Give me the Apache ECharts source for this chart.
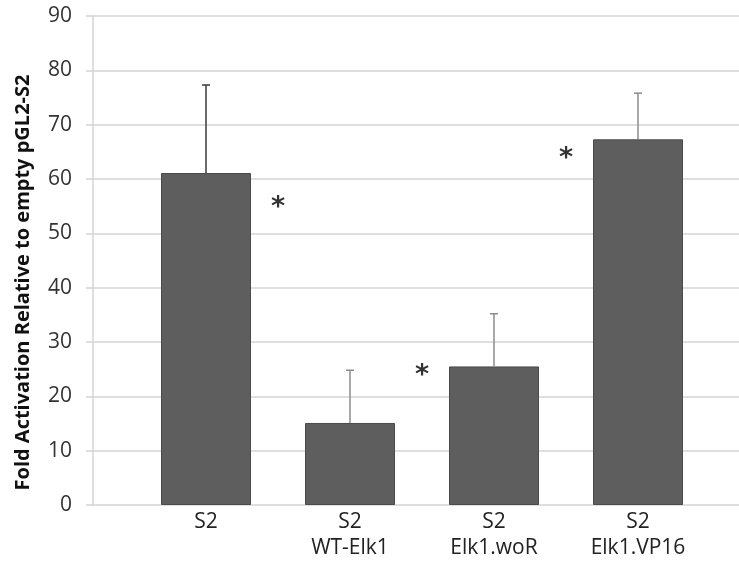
<!DOCTYPE html>
<html>
<head>
<meta charset="utf-8">
<script src="https://cdn.jsdelivr.net/npm/echarts@6/dist/echarts.min.js"></script>
<style>
  html, body { margin: 0; padding: 0; background: #fff; }
  #chart { width: 739px; height: 565px; }
</style>
</head>
<body>
<div id="chart"></div>
<script>
// data
const categories = ['S2', 'S2\nWT-Elk1', 'S2\nElk1.woR', 'S2\nElk1.VP16'];
const foldValues = [61.1, 15.1, 25.5, 67.3];
const errorTops = [77.3, 24.8, 35.2, 75.8];
const errorColors = ['#3a3a3a', '#8c8c8c', '#8c8c8c', '#8c8c8c'];
// asterisks: [category index they sit after, height]
const starMarks = [[0, 55.8], [1, 24.8], [2, 64.8]];
const yTicks = [0, 90, 10]; // min, max, interval

const chart = echarts.init(document.getElementById('chart'));
const font = '"Open Sans", "Noto Sans", sans-serif';

const option = {
  animation: false,
  grid: [
    { left: 93, right: 0, top: 16, bottom: 60 },
    { left: 134, right: 29, top: 16, bottom: 60 }
  ],
  xAxis: [
    { type: 'value', gridIndex: 0, show: false },
    {
      type: 'category', gridIndex: 1, data: categories,
      axisLine: { show: false }, axisTick: { show: false },
      axisLabel: { color: '#222', fontFamily: font, fontSize: 21, lineHeight: 26, margin: 4 }
    }
  ],
  yAxis: [
    {
      type: 'value', gridIndex: 0,
      min: yTicks[0], max: yTicks[1], interval: yTicks[2],
      name: 'Fold Activation Relative to empty pGL2-S2',
      nameLocation: 'middle', nameGap: 60,
      nameTextStyle: { color: '#111', fontFamily: font, fontSize: 20, fontWeight: 'bold', padding: [0, 44, 0, 0] },
      axisLine: { show: true, lineStyle: { color: '#d4d4d4', width: 1.5 } },
      axisTick: { show: true, length: 7, lineStyle: { color: '#d4d4d4', width: 1.5 } },
      axisLabel: { color: '#333', fontFamily: font, fontSize: 21, margin: 21 },
      splitLine: { lineStyle: { color: '#d4d4d4', width: 1.5 } }
    },
    {
      type: 'value', gridIndex: 1,
      min: yTicks[0], max: yTicks[1], interval: yTicks[2],
      show: false, splitLine: { show: false }
    }
  ],
  series: [
    {
      type: 'bar', xAxisIndex: 1, yAxisIndex: 1,
      data: foldValues, barWidth: 90,
      itemStyle: { color: '#5e5e5e', borderColor: '#4a4a4a', borderWidth: 1 },
      z: 2
    },
    {
      type: 'custom', xAxisIndex: 1, yAxisIndex: 1,
      data: foldValues.map((v, i) => [i, v, errorTops[i]]),
      renderItem: function (params, api) {
        const i = api.value(0);
        const lo = api.coord([i, api.value(1)]);
        const hi = api.coord([i, api.value(2)]);
        const c = errorColors[params.dataIndex];
        return {
          type: 'group',
          children: [
            { type: 'line', shape: { x1: lo[0], y1: lo[1], x2: hi[0], y2: hi[1] }, style: { stroke: c, lineWidth: 1.5 } },
            { type: 'line', shape: { x1: hi[0] - 4, y1: hi[1], x2: hi[0] + 4, y2: hi[1] }, style: { stroke: c, lineWidth: 1.5 } }
          ]
        };
      },
      z: 3
    },
    {
      type: 'custom', xAxisIndex: 1, yAxisIndex: 1,
      data: starMarks,
      renderItem: function (params, api) {
        const p = api.coord([api.value(0), api.value(1)]);
        const band = api.size([1, 0])[0];
        return {
          type: 'text',
          x: p[0] + band / 2, y: p[1] + 6,
          style: {
            text: '*', fill: '#333', font: 'bold 27px "DejaVu Sans", sans-serif',
            align: 'center', verticalAlign: 'middle'
          }
        };
      },
      z: 4
    }
  ]
};
chart.setOption(option);
</script>
</body>
</html>
